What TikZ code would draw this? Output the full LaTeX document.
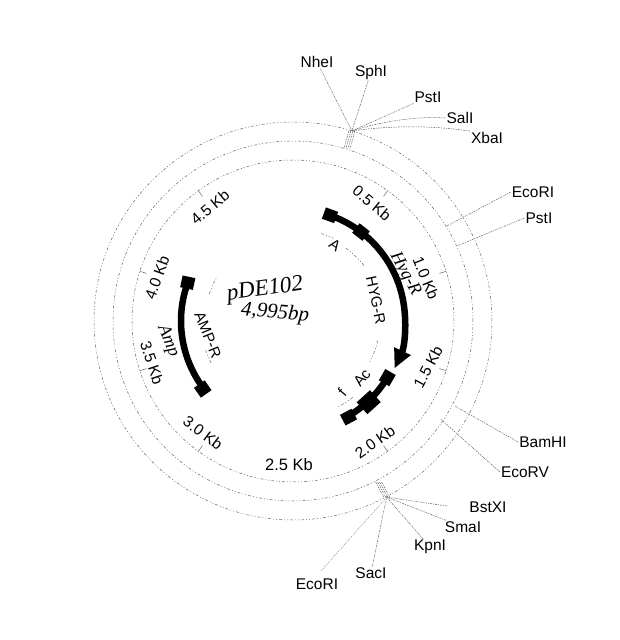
\documentclass[tikz,border=0pt]{standalone}
\usepackage{fontspec}
\setmainfont{Liberation Sans}
\newfontfamily\handfont[Scale=1.0]{Liberation Serif}
\usetikzlibrary{arrows.meta,positioning,calc}

\begin{document}
\begin{tikzpicture}[
    x=1pt, y=1pt,
    ring/.style={draw=black!60, line width=0.5pt, dash pattern=on 3pt off 2pt on 1pt off 2pt on 1pt off 2pt},
    site/.style={draw=black!60, line width=0.5pt, dash pattern=on 2pt off 1pt on 1pt off 1pt},
    sitelabel/.style={inner sep=1pt, font=\fontsize{15.5}{17}\selectfont},
    kblabel/.style={inner sep=0pt, font=\fontsize{15.5}{17}\selectfont},
    genelabel/.style={inner sep=0pt, font=\fontsize{15}{17}\selectfont},
    handlabel/.style={inner sep=0pt, font=\handfont\itshape},
    gene/.style={draw=black, line width=6.5pt},
    blockbox/.style={fill=black, inner sep=0pt, minimum width=13pt, minimum height=12pt}
]
\useasboundingbox (-293,-319) rectangle (327,321);

% Three rings
\draw[ring] (0,0) circle (199);
\draw[ring] (0,0) circle (180);
\draw[ring] (0,0) circle (161);

% Kb ticks and labels
\foreach \ang in {54,18,-18,-54,-126,-162,162,126}
    \draw[black!60, line width=0.5pt] (\ang:154) -- (\ang:161);
\node[kblabel, rotate=-40] (kbA) at (79,118) {0.5 Kb};
\node[kblabel, rotate=-68] (kbB) at (133,43) {1.0 Kb};
\node[kblabel, rotate=62] (kbC) at (135,-46) {1.5 Kb};
\node[kblabel, rotate=35] (kbD) at (82,-121) {2.0 Kb};
\node[sitelabel, font=\fontsize{16.5}{18}\selectfont] (kbE) at (-4,-144) {2.5 Kb};
\node[kblabel, rotate=-37] (kbF) at (-90,-112) {3.0 Kb};
\node[kblabel, rotate=-72] (kbG) at (-141,-42) {3.5 Kb};
\node[kblabel, rotate=70] (kbH) at (-136,43) {4.0 Kb};
\node[kblabel, rotate=40] (kbI) at (-83,114) {4.5 Kb};

% Top cluster
\coordinate (tophub) at (72.8:199);
\coordinate (topfoot) at (72.6:181);
\foreach \off in {-3,-1,1,3}
    \draw[site] ($(tophub)+(\off,0)$) -- ($(topfoot)+(\off,0)$);
\node[sitelabel] (nhe) at (24,259) {NheI};
\node[sitelabel] (sph) at (78,249) {SphI};
\node[sitelabel] (pstA) at (135,224) {PstI};
\node[sitelabel] (sal) at (167,203) {SalI};
\node[sitelabel] (xba) at (194,183) {XbaI};
\draw[site] (nhe) -- (tophub);
\draw[site] (sph) -- (tophub);
\draw[site] (pstA) -- (tophub);
\draw[site] (sal.west) .. controls (125,205) and (90,200) .. (tophub);
\draw[site] (xba.north west) .. controls (150,194) and (110,197) .. (tophub);

% Right side sites
\node[sitelabel] (ecoA) at (240,129) {EcoRI};
\node[sitelabel] (pstB) at (246,103) {PstI};
\node[sitelabel] (bam) at (250,-121) {BamHI};
\node[sitelabel] (ecoV) at (232,-151) {EcoRV};
\coordinate (ecoAend) at (31.7:181);
\coordinate (pstBend) at (24.6:181);
\coordinate (bamend) at (-27.7:183);
\coordinate (ecoVend) at (-33.6:177);
\draw[site] (ecoA.west) -- (ecoAend);
\draw[site] (pstB.west) -- (pstBend);
\draw[site] (bam.west) -- (bamend);
\draw[site] (ecoV.west) -- (ecoVend);

% Bottom cluster
\coordinate (bothub) at (-62:199.5);
\coordinate (botfoot) at (-62:182);
\coordinate (bstend) at (154,-185);
\coordinate (ecoBend) at (28,-250);
\foreach \off in {-3,-1,1,3}
    \draw[site] ($(bothub)+(\off,0)$) -- ($(botfoot)+(\off,0)$);
\node[sitelabel] (bst) at (195,-186) {BstXI};
\node[sitelabel] (sma) at (170,-206) {SmaI};
\node[sitelabel] (kpn) at (137,-226) {KpnI};
\node[sitelabel] (sac) at (78,-252) {SacI};
\node[sitelabel] (ecoB) at (24,-263) {EcoRI};
\draw[site] (bstend) -- (bothub);
\draw[site] (sma) -- (bothub);
\draw[site] (kpn) -- (bothub);
\draw[site] (sac) -- (bothub);
\draw[site, draw=black!40] (ecoBend) -- (bothub);

% HYG-R gene
\draw[gene, -{Stealth[length=19pt,width=17pt,inset=0pt]}] (70.7:112) arc[start angle=70.7, end angle=-25, radius=112];
\node[blockbox, rotate=-20] (hygA) at (70.7:112) {};
\node[blockbox, rotate=-38] (hygB) at (52.6:112) {};
% Second piece
\draw[gene] (-31:110) arc[start angle=-31, end angle=-60, radius=110];
\node[blockbox, rotate=60] (acA) at (-31:110) {};
\node[blockbox, rotate=42, minimum width=18pt, minimum height=16pt] (acB) at (-47:111) {};
\node[blockbox, rotate=28] (acC) at (-60:111) {};

% AMP-R gene
\draw[gene] (160:112) arc[start angle=160, end angle=217, radius=112];
\node[blockbox, rotate=-12] (ampA) at (160:112) {};
\node[blockbox, rotate=35] (ampB) at (217:113) {};

% Inner feature arcs
\draw[ring] (72:92) arc[start angle=72, end angle=64, radius=92];
\draw[ring] (54:90) arc[start angle=54, end angle=38, radius=90];
\draw[ring] (-13:87) arc[start angle=-13, end angle=-28, radius=87];
\draw[ring] (-52:97) arc[start angle=-52, end angle=-62, radius=97];
\draw[ring] (162:88) arc[start angle=162, end angle=150, radius=88];
\draw[ring] (207:92) arc[start angle=207, end angle=197, radius=92];
\node[genelabel, rotate=-35] (labA) at (42,76) {A};
\node[genelabel, rotate=-78] (hygR) at (83,21) {HYG-R};
\node[genelabel, rotate=50] (labAc) at (69,-57) {Ac};
\node[genelabel, rotate=50] (labI) at (49,-71) {f};
\node[genelabel, rotate=-68] (ampR) at (-85,-14) {AMP-R};

% Handwritten
\node[handlabel, rotate=8, font=\handfont\itshape\fontsize{23}{25}\selectfont] (name) at (-28,31) {pDE102};
\node[handlabel, rotate=-5, font=\handfont\itshape\fontsize{21}{23}\selectfont] (size) at (-18,8) {4,995bp};
\node[handlabel, rotate=-62, font=\handfont\itshape\fontsize{18}{20}\selectfont] (hygHand) at (112,47) {Hyg-R};
\node[handlabel, rotate=-68, font=\handfont\itshape\fontsize{18}{20}\selectfont] (ampHand) at (-125,-20) {Amp};

\end{tikzpicture}
\end{document}
